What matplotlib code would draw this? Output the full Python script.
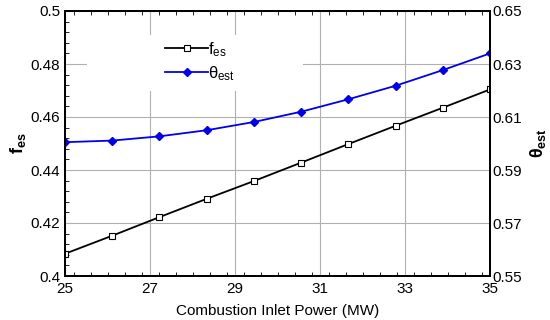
import numpy as np
import matplotlib
matplotlib.use("Agg")
import matplotlib.pyplot as plt
from matplotlib.ticker import MultipleLocator, FixedLocator
from matplotlib.patches import Rectangle

plt.rcParams['font.family'] = ['Liberation Sans', 'DejaVu Sans']
plt.rcParams['mathtext.fontset'] = 'custom'
plt.rcParams['mathtext.rm'] = 'Liberation Sans'
plt.rcParams['mathtext.it'] = 'Liberation Sans'
plt.rcParams['mathtext.bf'] = 'Liberation Sans:bold'

# data
power = [25.0, 26.11, 27.22, 28.33, 29.44, 30.56, 31.67, 32.78, 33.89, 35.0]
f_es = [0.4084, 0.4152, 0.4222, 0.4291, 0.4358, 0.4428, 0.4498, 0.4567, 0.4635, 0.4704]
theta_est = [0.6005, 0.6011, 0.6027, 0.6050, 0.6081, 0.6120, 0.6167, 0.6218, 0.6277, 0.6340]

fig = plt.figure(figsize=(5.5, 3.2), dpi=100)
ax = fig.add_axes([65/550, 1 - 276/320, 425/550, 265/320])
ax2 = ax.twinx()

l1, = ax.plot(power, f_es, color='black', lw=1.3, marker='s', ms=4.5,
              mfc='white', mec='black', mew=0.8, label=r'$\mathrm{f_{es}}$')
l2, = ax2.plot(power, theta_est, color='#0000ee', lw=1.3, marker='D', ms=4,
               mfc='#0000ee', mec='#0000ee', label=r'$\mathrm{\theta_{est}}$')

ax.set_xlim(25, 35)
ax.set_ylim(0.4, 0.5)
ax2.set_ylim(0.55, 0.65)
ax.xaxis.set_major_locator(FixedLocator([25, 27, 29, 31, 33, 35]))
ax.xaxis.set_minor_locator(MultipleLocator(0.4))
ax.yaxis.set_major_locator(FixedLocator([0.4, 0.42, 0.44, 0.46, 0.48, 0.5]))
ax.yaxis.set_minor_locator(MultipleLocator(0.004))
ax.set_yticklabels(['0.4', '0.42', '0.44', '0.46', '0.48', '0.5'])
ax2.yaxis.set_major_locator(FixedLocator([0.55, 0.57, 0.59, 0.61, 0.63, 0.65]))
ax2.set_yticklabels(['0.55', '0.57', '0.59', '0.61', '0.63', '0.65'])

ax.grid(True, which='major', color='#b0b0b0', lw=0.8)
ax.set_axisbelow(True)
# white legend area hides the grid behind the legend
ax.add_patch(Rectangle((0.052, 0.70), 0.508, 0.21, transform=ax.transAxes,
                       facecolor='white', edgecolor='none', zorder=1))

ax.tick_params(axis='x', which='both', direction='in', top=True, labelsize=11, pad=4)
ax.tick_params(axis='y', which='both', direction='in', labelsize=11)
ax.tick_params(which='major', length=0)
ax.tick_params(axis='x', which='minor', length=3)
ax.tick_params(axis='y', which='minor', length=3)
ax2.tick_params(axis='y', which='both', direction='in', length=0, labelsize=11, pad=2)

for a in (ax, ax2):
    for s in a.spines.values():
        s.set_linewidth(1.4)

ax.set_xlabel('Combustion Inlet Power (MW)', fontsize=11, labelpad=6)
ax.set_ylabel(r'$\mathbf{f_{es}}$', fontsize=13, labelpad=2)
ax2.set_ylabel(r'$\mathbf{\theta_{est}}$', fontsize=13, labelpad=4)

leg = ax2.legend([l1, l2], [l1.get_label(), l2.get_label()],
                 loc='upper left', bbox_to_anchor=(0.235, 0.89), fontsize=12,
                 handlelength=2.6, handletextpad=0.0, labelspacing=0.3,
                 borderpad=0.0, borderaxespad=0.0, frameon=False)

fig.savefig('out.png', dpi=100)
